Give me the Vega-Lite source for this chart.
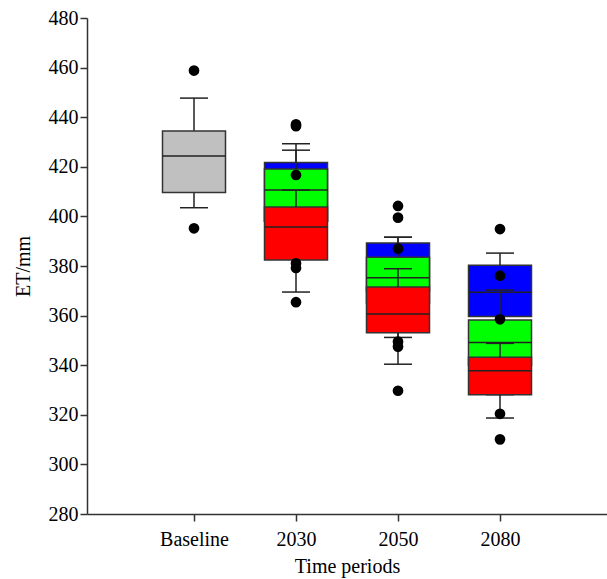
{
  "$schema": "https://vega.github.io/schema/vega-lite/v6.json",
  "width": 520,
  "height": 496,
  "autosize": "none",
  "padding": {"left": 87, "top": 18, "right": 0, "bottom": 65},
  "config": {
    "view": {"stroke": null},
    "axis": {
      "grid": false,
      "domainColor": "#333333",
      "domainWidth": 1.5,
      "tickColor": "#333333",
      "tickWidth": 1.5,
      "tickSize": 7,
      "labelFont": "Liberation Serif",
      "labelFontSize": 20,
      "labelColor": "#000000",
      "titleFont": "Liberation Serif",
      "titleFontSize": 20,
      "titleFontWeight": "normal",
      "titleColor": "#000000"
    }
  },
  "datasets": {
    "boxes": [
      {"period": 1, "s": "base", "lo": 403.5, "q1": 409.6, "median": 424.4, "q3": 434.4, "hi": 447.7},
      {"period": 2, "s": "blue", "lo": 386, "q1": 398, "median": 412, "q3": 421.7, "hi": 429.3},
      {"period": 2, "s": "green", "lo": 388, "q1": 398, "median": 410.6, "q3": 419.1, "hi": 426.7},
      {"period": 2, "s": "red", "lo": 369.5, "q1": 382.4, "median": 395.7, "q3": 403.8, "hi": 410.6},
      {"period": 3, "s": "blue", "lo": 351.2, "q1": 370, "median": 380, "q3": 389.3, "hi": 391.6},
      {"period": 3, "s": "green", "lo": 358, "q1": 365, "median": 375.3, "q3": 383.5, "hi": 391.6},
      {"period": 3, "s": "red", "lo": 340.4, "q1": 353.1, "median": 360.6, "q3": 371.5, "hi": 378.9},
      {"period": 4, "s": "blue", "lo": 328.1, "q1": 359.6, "median": 369.4, "q3": 380.3, "hi": 385.2},
      {"period": 4, "s": "green", "lo": 335, "q1": 340, "median": 349.2, "q3": 358.2, "hi": 370.3},
      {"period": 4, "s": "red", "lo": 318.7, "q1": 328.1, "median": 337.8, "q3": 343.2, "hi": 348.8}
    ],
    "outliers": [
      {"period": 1, "v": 458.8},
      {"period": 1, "v": 395.2},
      {"period": 2, "v": 437.1},
      {"period": 2, "v": 436.4},
      {"period": 2, "v": 416.7},
      {"period": 2, "v": 381.1},
      {"period": 2, "v": 379.2},
      {"period": 2, "v": 365.4},
      {"period": 3, "v": 404.2},
      {"period": 3, "v": 399.5},
      {"period": 3, "v": 387.0},
      {"period": 3, "v": 349.5},
      {"period": 3, "v": 347.5},
      {"period": 3, "v": 329.7},
      {"period": 4, "v": 394.9},
      {"period": 4, "v": 376.1},
      {"period": 4, "v": 358.5},
      {"period": 4, "v": 320.4},
      {"period": 4, "v": 310.1}
    ]
  },
  "encoding": {
    "x": {
      "field": "period",
      "type": "quantitative",
      "title": "Time periods",
      "scale": {"domain": [0, 5], "nice": false, "zero": false},
      "axis": {
        "values": [1, 2, 3, 4],
        "labelExpr": "['','Baseline','2030','2050','2080'][datum.value]",
        "labelPadding": 8,
        "titlePadding": 7
      }
    }
  },
  "layer": [
    {
      "data": {"name": "boxes"},
      "transform": [{"filter": "datum.s == 'base'"}],
      "layer": [
        {"mark": {"type": "rule", "color": "#222222", "strokeWidth": 1.5}, "encoding": {"y": {"field": "q3", "type": "quantitative", "title": "ET/mm", "scale": {"domain": [280, 480], "nice": false, "zero": false}, "axis": {"values": [280, 300, 320, 340, 360, 380, 400, 420, 440, 460, 480], "labelPadding": 2, "titlePadding": 15}}, "y2": {"field": "hi"}}},
        {"mark": {"type": "rule", "color": "#222222", "strokeWidth": 1.5}, "encoding": {"y": {"field": "lo", "type": "quantitative", "title": "ET/mm"}, "y2": {"field": "q1"}}},
        {"mark": {"type": "tick", "orient": "horizontal", "size": 28, "thickness": 1.5, "color": "#222222", "opacity": 1}, "encoding": {"y": {"field": "hi", "type": "quantitative", "title": "ET/mm"}}},
        {"mark": {"type": "tick", "orient": "horizontal", "size": 28, "thickness": 1.5, "color": "#222222", "opacity": 1}, "encoding": {"y": {"field": "lo", "type": "quantitative", "title": "ET/mm"}}},
        {"mark": {"type": "bar", "size": 63, "orient": "vertical", "stroke": "#333333", "strokeWidth": 1.5, "fill": "#c0c0c0"}, "encoding": {"y": {"field": "q1", "type": "quantitative", "title": "ET/mm"}, "y2": {"field": "q3"}}},
        {"mark": {"type": "tick", "orient": "horizontal", "size": 63, "thickness": 1.5, "color": "#222222", "opacity": 1}, "encoding": {"y": {"field": "median", "type": "quantitative", "title": "ET/mm"}}}
      ]
    },
    {
      "data": {"name": "boxes"},
      "transform": [{"filter": "datum.s == 'blue'"}],
      "layer": [
        {"mark": {"type": "bar", "size": 63, "orient": "vertical", "stroke": "#333333", "strokeWidth": 1.5, "fill": "#0000ff"}, "encoding": {"y": {"field": "q1", "type": "quantitative", "title": "ET/mm"}, "y2": {"field": "q3"}}},
        {"mark": {"type": "tick", "orient": "horizontal", "size": 63, "thickness": 1.5, "color": "#222222", "opacity": 1}, "encoding": {"y": {"field": "median", "type": "quantitative", "title": "ET/mm"}}},
        {"mark": {"type": "rule", "color": "#222222", "strokeWidth": 1.5}, "encoding": {"y": {"field": "q3", "type": "quantitative", "title": "ET/mm"}, "y2": {"field": "hi"}}},
        {"mark": {"type": "rule", "color": "#222222", "strokeWidth": 1.5}, "encoding": {"y": {"field": "lo", "type": "quantitative", "title": "ET/mm"}, "y2": {"field": "q1"}}},
        {"mark": {"type": "tick", "orient": "horizontal", "size": 28, "thickness": 1.5, "color": "#222222", "opacity": 1}, "encoding": {"y": {"field": "hi", "type": "quantitative", "title": "ET/mm"}}},
        {"mark": {"type": "tick", "orient": "horizontal", "size": 28, "thickness": 1.5, "color": "#222222", "opacity": 1}, "encoding": {"y": {"field": "lo", "type": "quantitative", "title": "ET/mm"}}}
      ]
    },
    {
      "data": {"name": "boxes"},
      "transform": [{"filter": "datum.s == 'green'"}],
      "layer": [
        {"mark": {"type": "bar", "size": 63, "orient": "vertical", "stroke": "#333333", "strokeWidth": 1.5, "fill": "#00ff00"}, "encoding": {"y": {"field": "q1", "type": "quantitative", "title": "ET/mm"}, "y2": {"field": "q3"}}},
        {"mark": {"type": "tick", "orient": "horizontal", "size": 63, "thickness": 1.5, "color": "#222222", "opacity": 1}, "encoding": {"y": {"field": "median", "type": "quantitative", "title": "ET/mm"}}},
        {"mark": {"type": "rule", "color": "#222222", "strokeWidth": 1.5}, "encoding": {"y": {"field": "q3", "type": "quantitative", "title": "ET/mm"}, "y2": {"field": "hi"}}},
        {"mark": {"type": "rule", "color": "#222222", "strokeWidth": 1.5}, "encoding": {"y": {"field": "lo", "type": "quantitative", "title": "ET/mm"}, "y2": {"field": "q1"}}},
        {"mark": {"type": "tick", "orient": "horizontal", "size": 28, "thickness": 1.5, "color": "#222222", "opacity": 1}, "encoding": {"y": {"field": "hi", "type": "quantitative", "title": "ET/mm"}}},
        {"mark": {"type": "tick", "orient": "horizontal", "size": 28, "thickness": 1.5, "color": "#222222", "opacity": 1}, "encoding": {"y": {"field": "lo", "type": "quantitative", "title": "ET/mm"}}}
      ]
    },
    {
      "data": {"name": "boxes"},
      "transform": [{"filter": "datum.s == 'red'"}],
      "layer": [
        {"mark": {"type": "bar", "size": 63, "orient": "vertical", "stroke": "#333333", "strokeWidth": 1.5, "fill": "#ff0000"}, "encoding": {"y": {"field": "q1", "type": "quantitative", "title": "ET/mm"}, "y2": {"field": "q3"}}},
        {"mark": {"type": "tick", "orient": "horizontal", "size": 63, "thickness": 1.5, "color": "#222222", "opacity": 1}, "encoding": {"y": {"field": "median", "type": "quantitative", "title": "ET/mm"}}},
        {"mark": {"type": "rule", "color": "#222222", "strokeWidth": 1.5}, "encoding": {"y": {"field": "q3", "type": "quantitative", "title": "ET/mm"}, "y2": {"field": "hi"}}},
        {"mark": {"type": "rule", "color": "#222222", "strokeWidth": 1.5}, "encoding": {"y": {"field": "lo", "type": "quantitative", "title": "ET/mm"}, "y2": {"field": "q1"}}},
        {"mark": {"type": "tick", "orient": "horizontal", "size": 28, "thickness": 1.5, "color": "#222222", "opacity": 1}, "encoding": {"y": {"field": "hi", "type": "quantitative", "title": "ET/mm"}}},
        {"mark": {"type": "tick", "orient": "horizontal", "size": 28, "thickness": 1.5, "color": "#222222", "opacity": 1}, "encoding": {"y": {"field": "lo", "type": "quantitative", "title": "ET/mm"}}}
      ]
    },
    {
      "data": {"name": "outliers"},
      "mark": {"type": "circle", "size": 115, "color": "#000000", "opacity": 1},
      "encoding": {"y": {"field": "v", "type": "quantitative", "title": "ET/mm"}}
    }
  ]
}
